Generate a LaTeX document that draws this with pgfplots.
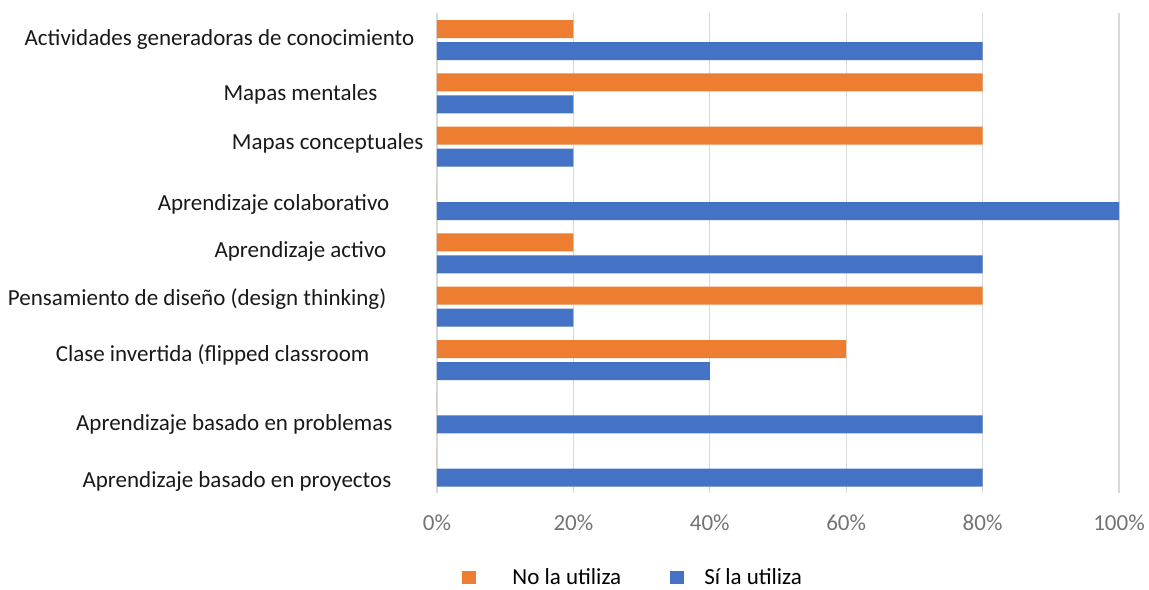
\documentclass[border=0pt]{standalone}
\usepackage{fontspec}
\setmainfont{Carlito}
\usepackage{pgfplots}
\usepackage{pgfplotstable}
\pgfplotsset{compat=1.18}
\definecolor{xorange}{HTML}{ED7D31}
\definecolor{xblue}{HTML}{4472C4}
\definecolor{xgrid}{HTML}{D9D9D9}
\newcommand{\lab}[2]{\raisebox{\dimexpr-#1pt-3.5pt\relax}[0pt][0pt]{#2}}
\pgfplotstableread{
idx no si
0 20 80
1 80 20
2 80 20
3 0 100
4 20 80
5 80 20
6 60 40
7 0 80
8 0 80
}\datatab
\begin{document}
\fontsize{11.5}{13}\selectfont
\begin{tikzpicture}
\useasboundingbox (-218.5pt,-48.2pt) rectangle (356pt,246.7pt);
\begin{axis}[
  scale only axis,
  width=341pt, height=240pt,
  xbar, bar width=9pt,
  y dir=reverse,
  xmin=0, xmax=100, ymin=-0.5, ymax=8.5,
  xtick={0,20,40,60,80,100},
  xticklabel={\pgfmathprintnumber{\tick}\%},
  /pgf/number format/assume math mode=true,
  xticklabel style={text=black!55, yshift=-6.8pt, font=\fontsize{11.5}{13}\selectfont},
  ytick={0,...,8},
  yticklabels={
    \lab{-0.75}{Actividades generadoras de conocimiento}\hspace*{-12.5pt},
    \lab{0}{Mapas mentales}\hspace*{6pt},
    \lab{-2.1}{Mapas conceptuales}\hspace*{-17pt},
    \lab{1.85}{Aprendizaje colaborativo},
    \lab{-1.7}{Aprendizaje activo}\hspace*{1.5pt},
    \lab{-4.25}{Pensamiento de diseño (design thinking)}\hspace*{1.5pt},
    \lab{-2.8}{Clase invertida (flipped classroom}\hspace*{10pt},
    \lab{5.15}{Aprendizaje basado en problemas}\hspace*{-1.5pt},
    \lab{7.1}{Aprendizaje basado en proyectos}\hspace*{-1pt}},
  yticklabel style={text=black!90, xshift=-19.8pt, font=\fontsize{11.5}{13}\selectfont},
  major tick length=0pt,
  axis line style={draw=none},
  xmajorgrids, grid style={xgrid, line width=0.6pt},
  legend columns=2,
  legend style={draw=none, at={(axis description cs:0.0367,-0.176)}, anchor=west,
    inner sep=0pt, nodes={inner sep=0pt}, font=\fontsize{11.5}{13}\selectfont,
    /tikz/column 2/.style={column sep=24.5pt}},
  legend image code/.code={\fill[#1] (0pt,-3.25pt) rectangle (7pt,3.25pt);},
]
\addplot[fill=xorange, draw=none, bar shift=5.5pt] table[x=no, y=idx] {\datatab};
\addplot[fill=xblue, draw=none, bar shift=-5.5pt] table[x=si, y=idx] {\datatab};
\legend{\hspace{18pt}No la utiliza, \hspace{10pt}Sí la utiliza}
\end{axis}
\end{tikzpicture}
\end{document}
